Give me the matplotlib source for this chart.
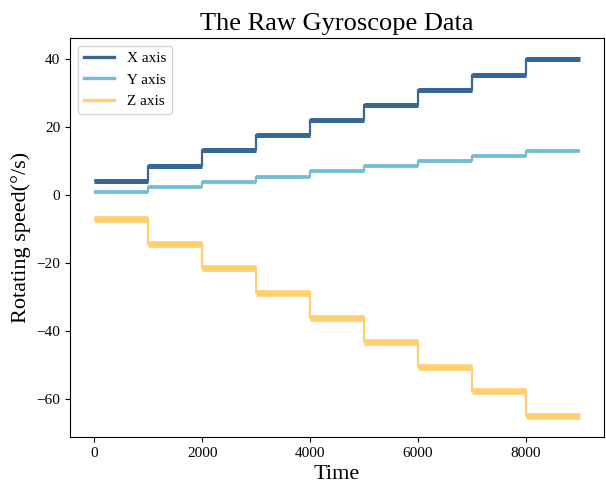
import matplotlib
matplotlib.use("Agg")
import matplotlib.pyplot as plt
from matplotlib.lines import Line2D

plt.rcParams['font.family'] = ['Liberation Serif', 'DejaVu Serif']

# Segment start times and mean angular rate per segment (deg/s)
seg_start = [0, 1000, 2000, 3000, 4000, 5000, 6000, 7000, 8000]
seg_end = 9000
x_rate = [4.0, 8.6, 13.1, 17.5, 22.0, 26.4, 30.9, 35.3, 39.8]
y_rate = [0.9, 2.4, 3.9, 5.4, 7.0, 8.5, 10.0, 11.5, 13.0]
z_rate = [-7.2, -14.4, -21.6, -28.8, -36.0, -43.2, -50.4, -57.6, -64.8]

# (label, values, colour, band width of the noisy plateaus)
series = [
    ("X axis", x_rate, "#376795", 3.6),
    ("Y axis", y_rate, "#72BCD5", 2.7),
    ("Z axis", z_rate, "#FFD06F", 4.8),
]

fig = plt.figure(figsize=(6.06, 4.87), dpi=100)
ax = fig.add_axes([70 / 606, 1 - 437 / 487, 534 / 606, 399 / 487])

t = seg_start + [seg_end]
handles = []
for name, vals, color, band in series:
    v = vals + [vals[-1]]
    # thin transitions between plateaus
    ax.plot(t, v, drawstyle="steps-post", color=color, lw=1.6,
            solid_capstyle="butt")
    # sensor noise makes each plateau appear as a thick band
    ax.hlines(vals, t[:-1], t[1:], colors=color, lw=band, capstyle="butt")
    handles.append(Line2D([], [], color=color, lw=2.4, label=name))

ax.set_xlim(-450, 9450)
ax.set_ylim(-71.1, 46.1)
ax.set_xticks([0, 2000, 4000, 6000, 8000])
ax.set_yticks([-60, -40, -20, 0, 20, 40])
ax.tick_params(labelsize=11)

ax.set_title("The Raw Gyroscope Data", fontsize=19)
ax.set_xlabel("Time", fontsize=16)
ax.set_ylabel("Rotating speed(°/s)", fontsize=16)
ax.legend(handles=handles, loc="upper left", fontsize=11)

fig.savefig("out.png", dpi=100)
